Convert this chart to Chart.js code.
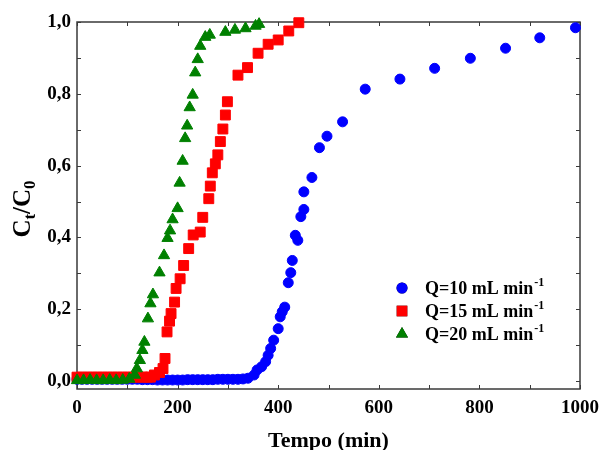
<!DOCTYPE html>
<html>
<head>
<meta charset="utf-8">
<script src="https://cdn.jsdelivr.net/npm/chart.js@4.4.1/dist/chart.umd.min.js"></script>
<style>
  html, body { margin: 0; padding: 0; background: #fff; }
  #wrap { width: 607px; height: 450px; position: relative; }
</style>
</head>
<body>
<div id="wrap"><canvas id="breakChart"></canvas></div>
<script>
// Curvas de ruptura - Ct/C0 vs tempo (min)
const seriesLabels = ['Q=10 mL min', 'Q=15 mL min', 'Q=20 mL min'];

const timeQ10 = [0, 10, 20, 30, 40, 50, 60, 70, 80, 90, 100, 110, 120, 130, 140, 150, 160, 170,
  180, 190, 200, 210, 220, 230, 240, 250, 260, 270, 280, 290, 300, 310, 320, 330, 340,
  352, 358, 367, 375, 380, 385, 391, 400, 404, 408, 413, 420, 425, 428, 434, 439, 445, 451, 451,
  467, 482, 497, 528, 573, 642, 711, 782, 852, 920, 991];
const cQ10 = [0.005, 0.005, 0.005, 0.005, 0.005, 0.005, 0.005, 0.005, 0.005, 0.005, 0.005, 0.005, 0.005, 0.004, 0.004, 0.004, 0.003, 0.003,
  0.003, 0.003, 0.003, 0.003, 0.004, 0.004, 0.004, 0.004, 0.004, 0.004, 0.005, 0.005, 0.005, 0.005, 0.005, 0.006, 0.008,
  0.017, 0.031, 0.040, 0.054, 0.072, 0.091, 0.114, 0.146, 0.179, 0.193, 0.206, 0.274, 0.302, 0.336, 0.406, 0.392, 0.458, 0.478, 0.527,
  0.567, 0.650, 0.682, 0.722, 0.813, 0.841, 0.871, 0.899, 0.927, 0.956, 0.984];

const timeQ15 = [0, 10, 20, 30, 40, 50, 60, 70, 80, 90, 100, 110, 120, 130, 140, 146,
  154, 164, 171, 175, 179, 184, 187, 194, 197, 205, 212, 222, 231, 245, 250, 262, 265, 269,
  275, 280, 285, 290, 295, 299, 320, 339, 360, 380, 400, 421, 441];
const cQ15 = [0.011, 0.011, 0.011, 0.011, 0.011, 0.011, 0.011, 0.011, 0.011, 0.011, 0.011, 0.011, 0.011, 0.011, 0.011, 0.011,
  0.017, 0.024, 0.035, 0.063, 0.137, 0.167, 0.188, 0.220, 0.258, 0.285, 0.322, 0.369, 0.407, 0.415, 0.456, 0.508, 0.543, 0.580,
  0.605, 0.630, 0.667, 0.702, 0.741, 0.778, 0.852, 0.873, 0.913, 0.938, 0.950, 0.975, 0.998];

const timeQ20 = [0, 13, 26, 39, 52, 65, 78, 91, 104, 115, 119, 125, 130, 134, 141, 146, 151, 164, 173,
  180, 185, 190, 200, 204, 210, 215, 219, 224, 230, 235, 240, 245, 255, 264, 295, 314, 335, 355, 362];
const cQ20 = [0.002, 0.002, 0.003, 0.002, 0.002, 0.003, 0.002, 0.003, 0.006, 0.017, 0.035, 0.058, 0.086, 0.109, 0.174, 0.216, 0.241, 0.302, 0.350,
  0.398, 0.419, 0.450, 0.481, 0.552, 0.613, 0.676, 0.711, 0.762, 0.797, 0.859, 0.896, 0.933, 0.958, 0.964, 0.972, 0.978, 0.982, 0.989, 0.994];

const xTickValues = [0, 100, 200, 300, 400, 500, 600, 700, 800, 900, 1000];
const yTickValues = [0, 0.1, 0.2, 0.3, 0.4, 0.5, 0.6, 0.7, 0.8, 0.9, 1.0];

const FONT = "'Liberation Serif', 'Times New Roman', serif";

function toPoints(xs, ys) {
  return xs.map((x, i) => ({ x: x, y: ys[i] }));
}

// frame + inward tick marks on all four sides
const framePlugin = {
  id: 'frame',
  beforeDatasetsDraw(chart) {
    const { ctx, chartArea: a, scales } = chart;
    ctx.save();
    ctx.strokeStyle = '#3a3a3a';
    ctx.lineWidth = 1.5;
    ctx.strokeRect(a.left, a.top, a.right - a.left, a.bottom - a.top);
    ctx.lineWidth = 1;
    ctx.beginPath();
    scales.x.ticks.forEach(t => {
      const px = Math.round(scales.x.getPixelForValue(t.value)) + 0.5;
      ctx.moveTo(px, a.bottom); ctx.lineTo(px, a.bottom - 4);
      ctx.moveTo(px, a.top); ctx.lineTo(px, a.top + 4);
    });
    scales.y.ticks.forEach(t => {
      const py = Math.round(scales.y.getPixelForValue(t.value)) + 0.5;
      ctx.moveTo(a.left, py); ctx.lineTo(a.left + 4, py);
      ctx.moveTo(a.right, py); ctx.lineTo(a.right - 4, py);
    });
    ctx.stroke();
    ctx.restore();
  }
};

// y title Ct/C0 with subscripts and a legend with superscripts
const textPlugin = {
  id: 'richText',
  afterDraw(chart) {
    const ctx = chart.ctx;
    ctx.save();
    ctx.fillStyle = '#000';
    ctx.textBaseline = 'alphabetic';

    // y axis title
    const big = 'bold 25px ' + FONT, small = 'bold 17px ' + FONT;
    const parts = [['C', big, 0], ['t', small, 5], ['/C', big, 0], ['0', small, 5]];
    let total = 0;
    parts.forEach(p => { ctx.font = p[1]; total += ctx.measureText(p[0]).width; });
    ctx.translate(30, 209);
    ctx.rotate(-Math.PI / 2);
    let cx = -total / 2;
    parts.forEach(p => {
      ctx.font = p[1];
      ctx.fillText(p[0], cx, p[2]);
      cx += ctx.measureText(p[0]).width;
    });
    ctx.setTransform(1, 0, 0, 1, 0, 0);

    // legend
    const rowY = [288, 311, 334];
    chart.data.datasets.forEach((ds, i) => {
      const y = rowY[i];
      Chart.helpers.drawPoint(ctx, {
        pointStyle: ds.pointStyle,
        radius: ds.legendRadius,
        borderWidth: 0
      }, 402, y);
      ctx.fillStyle = ds.backgroundColor;
      ctx.fill();
      ctx.fillStyle = '#000';
      ctx.font = 'bold 18px ' + FONT;
      ctx.fillText(seriesLabels[i], 425, y + 6);
      const w = ctx.measureText(seriesLabels[i]).width;
      ctx.font = 'bold 12px ' + FONT;
      ctx.fillText('-1', 425 + w + 1, y - 2);
    });
    ctx.restore();
  }
};

const commonPoint = { showLine: false, clip: false, borderWidth: 1 };

new Chart(document.getElementById('breakChart'), {
  type: 'scatter',
  data: {
    datasets: [
      Object.assign({
        label: seriesLabels[0],
        data: toPoints(timeQ10, cQ10),
        pointStyle: 'circle', pointRadius: 5, legendRadius: 5.5,
        backgroundColor: '#0000ff', borderColor: '#0000ff', order: 3
      }, commonPoint),
      Object.assign({
        label: seriesLabels[1],
        data: toPoints(timeQ15, cQ15),
        pointStyle: 'rect', pointRadius: 7, legendRadius: 7.5,
        backgroundColor: '#ff0000', borderColor: '#ff0000', order: 2
      }, commonPoint),
      Object.assign({
        label: seriesLabels[2],
        data: toPoints(timeQ20, cQ20),
        pointStyle: 'triangle', pointRadius: 6.5, legendRadius: 7,
        backgroundColor: '#008000', borderColor: '#008000', order: 1
      }, commonPoint)
    ]
  },
  options: {
    responsive: true,
    maintainAspectRatio: false,
    animation: false,
    events: [],
    layout: { padding: { left: 0, right: 22, top: 22, bottom: 0 } },
    plugins: {
      legend: { display: false },
      tooltip: { enabled: false }
    },
    scales: {
      x: {
        type: 'linear',
        min: 0,
        max: 1000,
        afterBuildTicks: s => { s.ticks = xTickValues.map(v => ({ value: v })); },
        afterFit: s => { s.height = 61; },
        grid: { display: false, drawTicks: false },
        border: { display: false },
        ticks: {
          padding: 8,
          color: '#000',
          font: { family: FONT, size: 19, weight: 'bold' },
          maxRotation: 0,
          callback: v => (v % 200 === 0 ? String(v) : '')
        },
        title: {
          display: true,
          text: 'Tempo (min)',
          color: '#000',
          padding: { top: 0, bottom: -2 },
          font: { family: FONT, size: 22, weight: 'bold', lineHeight: 1 }
        }
      },
      y: {
        min: -0.022,
        max: 1.0,
        afterBuildTicks: s => { s.ticks = yTickValues.map(v => ({ value: v })); },
        afterFit: s => { s.width = 77; },
        grid: { display: false, drawTicks: false },
        border: { display: false },
        ticks: {
          padding: 6,
          color: '#000',
          font: { family: FONT, size: 19, weight: 'bold' },
          callback: (v, i) => (i % 2 === 0 ? v.toFixed(1).replace('.', ',') : '')
        }
      }
    }
  },
  plugins: [framePlugin, textPlugin]
});
</script>
</body>
</html>
